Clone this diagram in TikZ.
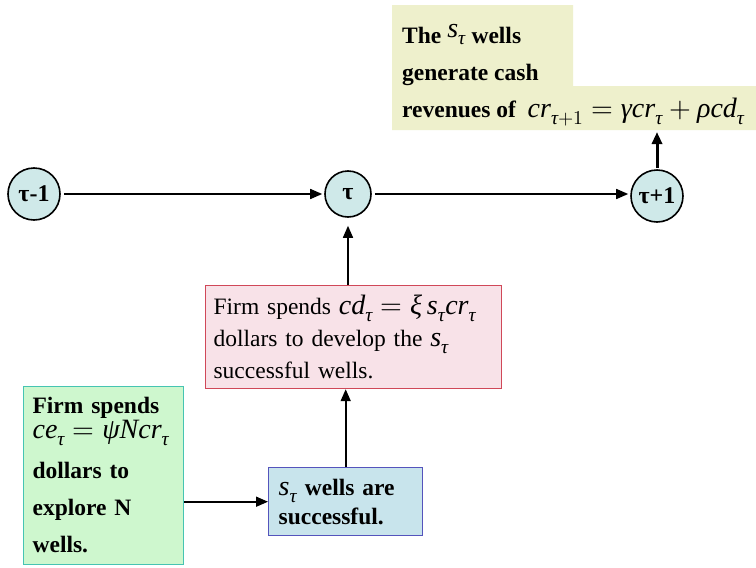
\documentclass[tikz,border=0pt]{standalone}
\usepackage{fontspec}
\usepackage{unicode-math}
\setmainfont{Liberation Serif}
\setmathfont{Latin Modern Math}
\setmathfont{Liberation Serif Italic}[range={it/{latin,Latin,greek,Greek}->up}]
\usetikzlibrary{arrows.meta}
\definecolor{stagefill}{RGB}{207,233,233}
\definecolor{revfill}{RGB}{238,240,204}
\definecolor{devfill}{RGB}{248,226,232}
\definecolor{devline}{RGB}{208,72,88}
\definecolor{hitfill}{RGB}{200,228,236}
\definecolor{hitline}{RGB}{84,84,188}
\definecolor{explfill}{RGB}{206,247,206}
\definecolor{explline}{RGB}{70,196,178}
\newcommand{\wellmath}[1]{{\fontsize{28}{28}\selectfont$#1$}}
\tikzset{
  stage/.style={circle,draw,line width=1.6pt,fill=stagefill,inner sep=0pt,
    font=\fontsize{24}{26}\selectfont\bfseries},
  flow/.style={-{Triangle[length=12pt,width=10pt]},line width=1.6pt},
  textbox/.style={rectangle,align=left,inner ysep=0pt,
    font=\fontsize{23.5}{32}\selectfont},
  devbox/.style={textbox,draw=devline,line width=1.2pt,fill=devfill,inner xsep=8pt},
  hitbox/.style={textbox,draw=hitline,line width=1.4pt,fill=hitfill,inner xsep=10pt,
    font=\fontsize{23.5}{29}\selectfont\bfseries},
  explbox/.style={textbox,draw=explline,line width=1.2pt,fill=explfill,inner xsep=9pt,
    inner ysep=11pt,font=\fontsize{23.5}{37}\selectfont\bfseries},
}
\begin{document}
\begin{tikzpicture}[x=1pt,y=-1pt]
\clip (0,0) rectangle (756,568);
\fill[white] (0,0) rectangle (756,568);
% time line
\node[stage,minimum size=52pt] (prev) at (34,194) {τ-1};
\node[stage,minimum size=46pt] (now) at (348,194) {τ};
\node[stage,minimum size=52pt] (next) at (657,196) {τ+1};
\draw[flow,shorten <=3pt,shorten >=2pt] (prev) -- (now);
\draw[flow,shorten <=3pt,shorten >=2pt] (now) -- (now -| next.west);
% cash revenues
\fill[revfill] (392,5) rectangle (573,86) (392,86) rectangle (756,130);
\node[textbox,anchor=north west,inner xsep=10pt,inner ysep=19pt,
  font=\fontsize{23.5}{37}\selectfont\bfseries] (rev) at (392,5)
  {The \raisebox{6pt}{\wellmath{s_\tau}} wells\\
   generate cash\\
   revenues of \ \wellmath{cr_{\tau+1}=\gamma cr_\tau+\rho cd_\tau}};
\coordinate (revbase) at (657,132);
\draw[flow,line width=3pt,shorten <=1pt] (next) -- (revbase);
% boxes
\node[devbox,anchor=north west,text width=280pt,minimum height=103pt] (develop) at (205,285)
  {Firm spends \wellmath{cd_\tau=\xi\,s_\tau cr_\tau}\\
   dollars to develop the \wellmath{s_\tau}\\
   successful wells.};
\node[hitbox,anchor=north west,text width=134pt,minimum height=68pt] (success) at (268,467)
  {\wellmath{s_\tau} wells are\\ successful.};
\node[explbox,anchor=north west,text width=142pt] (explore) at (23,386)
  {Firm spends\\[-12pt]
   \wellmath{ce_\tau=\psi Ncr_\tau}\\[3pt]
   dollars to\\
   explore N\\
   wells.};
\draw[flow] (explore.east |- success) -- (success);
\draw[flow] (success.north) -- (success.north |- develop.south);
\draw[flow,shorten >=8pt] (now |- develop.north) -- (now);
\end{tikzpicture}
\end{document}
